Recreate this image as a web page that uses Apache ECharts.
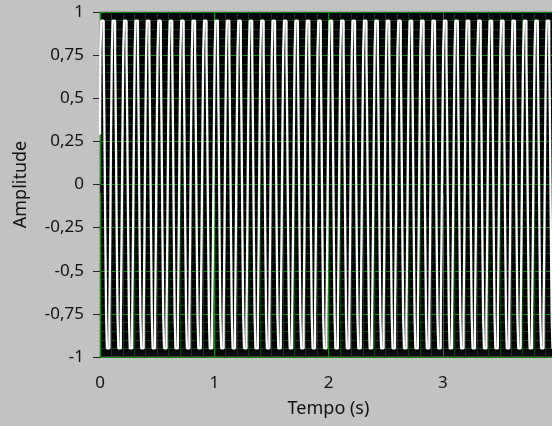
<!DOCTYPE html>
<html>
<head>
<meta charset="utf-8">
<script src="https://cdn.jsdelivr.net/npm/echarts@6/dist/echarts.min.js"></script>
<style>
html,body{margin:0;padding:0;background:#c2c2c2;}
#chart{width:552px;height:426px;}
</style>
</head>
<body>
<div id="chart"></div>
<script>
const waveT0 = 0;
const waveDt = 1 / 140; // 14 samples per 0.1 s cycle
const amplitude = [
 0.29, 0.77, 0.95, 0.95, 0.95, 0.77, 0.29, -0.29, -0.77, -0.95, -0.95, -0.95, -0.77, -0.29,
 0.29, 0.77, 0.95, 0.95, 0.95, 0.77, 0.29, -0.29, -0.77, -0.95, -0.95, -0.95, -0.77, -0.29,
 0.29, 0.77, 0.95, 0.95, 0.95, 0.77, 0.29, -0.29, -0.77, -0.95, -0.95, -0.95, -0.77, -0.29,
 0.29, 0.77, 0.95, 0.95, 0.95, 0.77, 0.29, -0.29, -0.77, -0.95, -0.95, -0.95, -0.77, -0.29,
 0.29, 0.77, 0.95, 0.95, 0.95, 0.77, 0.29, -0.29, -0.77, -0.95, -0.95, -0.95, -0.77, -0.29,
 0.29, 0.77, 0.95, 0.95, 0.95, 0.77, 0.29, -0.29, -0.77, -0.95, -0.95, -0.95, -0.77, -0.29,
 0.29, 0.77, 0.95, 0.95, 0.95, 0.77, 0.29, -0.29, -0.77, -0.95, -0.95, -0.95, -0.77, -0.29,
 0.29, 0.77, 0.95, 0.95, 0.95, 0.77, 0.29, -0.29, -0.77, -0.95, -0.95, -0.95, -0.77, -0.29,
 0.29, 0.77, 0.95, 0.95, 0.95, 0.77, 0.29, -0.29, -0.77, -0.95, -0.95, -0.95, -0.77, -0.29,
 0.29, 0.77, 0.95, 0.95, 0.95, 0.77, 0.29, -0.29, -0.77, -0.95, -0.95, -0.95, -0.77, -0.29,
 0.29, 0.77, 0.95, 0.95, 0.95, 0.77, 0.29, -0.29, -0.77, -0.95, -0.95, -0.95, -0.77, -0.29,
 0.29, 0.77, 0.95, 0.95, 0.95, 0.77, 0.29, -0.29, -0.77, -0.95, -0.95, -0.95, -0.77, -0.29,
 0.29, 0.77, 0.95, 0.95, 0.95, 0.77, 0.29, -0.29, -0.77, -0.95, -0.95, -0.95, -0.77, -0.29,
 0.29, 0.77, 0.95, 0.95, 0.95, 0.77, 0.29, -0.29, -0.77, -0.95, -0.95, -0.95, -0.77, -0.29,
 0.29, 0.77, 0.95, 0.95, 0.95, 0.77, 0.29, -0.29, -0.77, -0.95, -0.95, -0.95, -0.77, -0.29,
 0.29, 0.77, 0.95, 0.95, 0.95, 0.77, 0.29, -0.29, -0.77, -0.95, -0.95, -0.95, -0.77, -0.29,
 0.29, 0.77, 0.95, 0.95, 0.95, 0.77, 0.29, -0.29, -0.77, -0.95, -0.95, -0.95, -0.77, -0.29,
 0.29, 0.77, 0.95, 0.95, 0.95, 0.77, 0.29, -0.29, -0.77, -0.95, -0.95, -0.95, -0.77, -0.29,
 0.29, 0.77, 0.95, 0.95, 0.95, 0.77, 0.29, -0.29, -0.77, -0.95, -0.95, -0.95, -0.77, -0.29,
 0.29, 0.77, 0.95, 0.95, 0.95, 0.77, 0.29, -0.29, -0.77, -0.95, -0.95, -0.95, -0.77, -0.29,
 0.29, 0.77, 0.95, 0.95, 0.95, 0.77, 0.29, -0.29, -0.77, -0.95, -0.95, -0.95, -0.77, -0.29,
 0.29, 0.77, 0.95, 0.95, 0.95, 0.77, 0.29, -0.29, -0.77, -0.95, -0.95, -0.95, -0.77, -0.29,
 0.29, 0.77, 0.95, 0.95, 0.95, 0.77, 0.29, -0.29, -0.77, -0.95, -0.95, -0.95, -0.77, -0.29,
 0.29, 0.77, 0.95, 0.95, 0.95, 0.77, 0.29, -0.29, -0.77, -0.95, -0.95, -0.95, -0.77, -0.29,
 0.29, 0.77, 0.95, 0.95, 0.95, 0.77, 0.29, -0.29, -0.77, -0.95, -0.95, -0.95, -0.77, -0.29,
 0.29, 0.77, 0.95, 0.95, 0.95, 0.77, 0.29, -0.29, -0.77, -0.95, -0.95, -0.95, -0.77, -0.29,
 0.29, 0.77, 0.95, 0.95, 0.95, 0.77, 0.29, -0.29, -0.77, -0.95, -0.95, -0.95, -0.77, -0.29,
 0.29, 0.77, 0.95, 0.95, 0.95, 0.77, 0.29, -0.29, -0.77, -0.95, -0.95, -0.95, -0.77, -0.29,
 0.29, 0.77, 0.95, 0.95, 0.95, 0.77, 0.29, -0.29, -0.77, -0.95, -0.95, -0.95, -0.77, -0.29,
 0.29, 0.77, 0.95, 0.95, 0.95, 0.77, 0.29, -0.29, -0.77, -0.95, -0.95, -0.95, -0.77, -0.29,
 0.29, 0.77, 0.95, 0.95, 0.95, 0.77, 0.29, -0.29, -0.77, -0.95, -0.95, -0.95, -0.77, -0.29,
 0.29, 0.77, 0.95, 0.95, 0.95, 0.77, 0.29, -0.29, -0.77, -0.95, -0.95, -0.95, -0.77, -0.29,
 0.29, 0.77, 0.95, 0.95, 0.95, 0.77, 0.29, -0.29, -0.77, -0.95, -0.95, -0.95, -0.77, -0.29,
 0.29, 0.77, 0.95, 0.95, 0.95, 0.77, 0.29, -0.29, -0.77, -0.95, -0.95, -0.95, -0.77, -0.29,
 0.29, 0.77, 0.95, 0.95, 0.95, 0.77, 0.29, -0.29, -0.77, -0.95, -0.95, -0.95, -0.77, -0.29,
 0.29, 0.77, 0.95, 0.95, 0.95, 0.77, 0.29, -0.29, -0.77, -0.95, -0.95, -0.95, -0.77, -0.29,
 0.29, 0.77, 0.95, 0.95, 0.95, 0.77, 0.29, -0.29, -0.77, -0.95, -0.95, -0.95, -0.77, -0.29,
 0.29, 0.77, 0.95, 0.95, 0.95, 0.77, 0.29, -0.29, -0.77, -0.95, -0.95, -0.95, -0.77, -0.29,
 0.29, 0.77, 0.95, 0.95, 0.95, 0.77, 0.29, -0.29, -0.77, -0.95, -0.95, -0.95, -0.77, -0.29,
 0.29, 0.77, 0.95, 0.95, 0.95, 0.77, 0.29, -0.29, -0.77, -0.95, -0.95, -0.95, -0.77, -0.29,
 0.29
];
const xTickValues = [0, 1, 2, 3, 4];
const xTickLabels = ['0', '1', '2', '3', '4'];
const yTickValues = [-1, -0.75, -0.5, -0.25, 0, 0.25, 0.5, 0.75, 1];
const yTickLabels = ['-1', '-0,75', '-0,5', '-0,25', '0', '0,25', '0,5', '0,75', '1'];
const xAxisTitle = 'Tempo (s)';
const yAxisTitle = 'Amplitude';

const seriesData = amplitude.map((v, i) => [waveT0 + i * waveDt, v]);

function labelFor(values, labels, v) {
  const i = values.findIndex(t => Math.abs(t - v) < 1e-9);
  return i >= 0 ? labels[i] : '';
}

const FONT = 'Noto Sans';
const textColor = '#111111';
const chart = echarts.init(document.getElementById('chart'), null, {renderer: 'canvas'});
chart.setOption({
  backgroundColor: '#c2c2c2',
  animation: false,
  grid: {
    left: 100, top: 12, right: -5, bottom: 69,
    containLabel: false, outerBoundsMode: 'none',
    show: true, backgroundColor: '#000000', borderColor: '#7a7a7a', borderWidth: 1
  },
  xAxis: {
    type: 'value', min: 0, max: 4, interval: 1, offset: 3,
    axisLine: {show: false},
    axisTick: {show: true, length: 9, lineStyle: {color: '#222', width: 1}},
    axisLabel: {margin: 15, color: textColor, fontFamily: FONT, fontSize: 17,
      formatter: v => labelFor(xTickValues, xTickLabels, v)},
    splitLine: {show: true, lineStyle: {color: '#0f8a0f', width: 1}},
    minorTick: {show: false, splitNumber: 10},
    minorSplitLine: {show: true, lineStyle: {color: '#0a3f0a', width: 1}},
    name: xAxisTitle, nameLocation: 'middle', nameGap: 40,
    nameTextStyle: {color: textColor, fontFamily: FONT, fontSize: 18}
  },
  yAxis: {
    type: 'value', min: -1, max: 1, interval: 0.25, offset: 4,
    axisLine: {show: false},
    axisTick: {show: true, length: 7, lineStyle: {color: '#222', width: 1}},
    axisLabel: {margin: 12, color: textColor, fontFamily: FONT, fontSize: 17,
      formatter: v => labelFor(yTickValues, yTickLabels, v)},
    splitLine: {show: true, lineStyle: {color: '#0f8a0f', width: 1}},
    minorTick: {show: false, splitNumber: 5},
    minorSplitLine: {show: true, lineStyle: {color: '#0a3f0a', width: 1}},
    name: yAxisTitle, nameLocation: 'middle', nameGap: 66, nameRotate: 90,
    nameTextStyle: {color: textColor, fontFamily: FONT, fontSize: 18}
  },
  series: [{
    type: 'line',
    data: seriesData,
    step: 'middle',
    showSymbol: false,
    symbol: 'none',
    clip: true,
    lineStyle: {color: '#ffffff', width: 2.3},
    silent: true
  }]
});
</script>
</body>
</html>
